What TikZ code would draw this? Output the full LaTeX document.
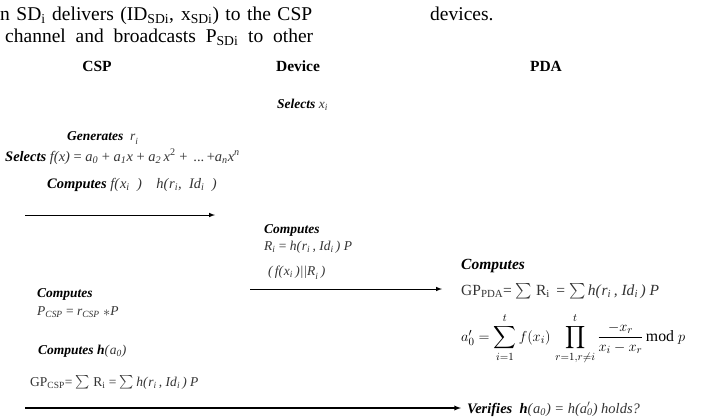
\documentclass[tikz,border=0pt]{standalone}
\usepackage{amsmath,amssymb}
\usepackage{fontspec}
\setmainfont{Liberation Serif}
\usetikzlibrary{arrows}

\tikzset{
	head/.style={anchor=base, inner sep=0pt, font=\fontsize{15.5}{18}\selectfont\bfseries},
	txt/.style={anchor=base west, inner sep=0pt, text=black!80, font=\fontsize{13.5}{16}\selectfont},
	big/.style={txt, font=\fontsize{15.5}{18}\selectfont},
	msg/.style={-latex, line width=1pt},
}
\newcommand{\act}[1]{\textcolor{black}{\textbf{\textit{#1}}}}
\newcommand{\vi}[2]{\textit{#1}\textsubscript{\textit{#2}}}

\begin{document}
\begin{tikzpicture}[x=1pt,y=-1pt]
	\useasboundingbox (0,0) rectangle (701,416);
	
	% text of the page above
	\node[anchor=base west, inner sep=0pt, font=\fontsize{19.5}{22}\selectfont] (top1) at (0,20)
		{\makebox[312pt][s]{n SD\textsubscript{i} delivers (ID\textsubscript{SDi}, x\textsubscript{SDi}) to the CSP}};
	\node[anchor=base west, inner sep=0pt, font=\fontsize{19.5}{22}\selectfont] (top2) at (5,42)
		{\makebox[308pt][s]{channel and broadcasts P\textsubscript{SDi} to other}};
	\node[anchor=base west, inner sep=0pt, font=\fontsize{19.5}{22}\selectfont] (top3) at (430,20) {devices.};
	
	\node[head] (csp) at (97,71) {CSP};
	\node[head] (dev) at (298,71) {Device};
	\node[head] (pda) at (546,71) {PDA};
	
	\node[txt] (selx) at (277,108) {\act{Selects} \vi{x}{i}};
	\node[txt] (gen) at (67,140) {\act{Generates} \ \textit{r}\textsubscript{\raisebox{-2pt}{\textit{i}}}};
	\node[txt, font=\fontsize{14.5}{17}\selectfont] (self) at (5,161) {\act{Selects} \textit{f(x)} = \vi{a}{0} + \vi{a}{1}\textit{x} + \vi{a}{2}\,\textit{x}\textsuperscript{2} + \,...\,+\vi{a}{n}\textit{x}\textsuperscript{\textit{n}}};
	\node[txt, font=\fontsize{14.5}{17}\selectfont] (compf) at (47,188) {\act{Computes} \textit{f(}\vi{x}{i}\textit{\ \ )\quad h(}\vi{r}{i}\textit{,\ \ }\vi{Id}{i}\textit{\ \ )}};
	
	\coordinate (a1s) at (25,215);
	\coordinate (a1e) at (215,215);
	\draw[msg] (a1s) -- (a1e);
	
	\node[txt] (devc) at (264,233) {\act{Computes}};
	\node[txt] (devr) at (264,250) {\vi{R}{i} = \textit{h(}\vi{r}{i}\textit{\,, }\vi{Id}{i}\textit{\,) P}};
	\node[txt] (devf) at (268,275) {\textit{(\,f(}\vi{x}{i}\textit{\,)||}\textit{R}\textsubscript{\raisebox{-2pt}{\textit{i}}}\textit{\,)}};
	
	\coordinate (a2s) at (250,289);
	\coordinate (a2e) at (442,289);
	\draw[msg] (a2s) -- (a2e);
	
	\node[big] (pdac) at (461,269) {\act{Computes}};
	\node[big] (gppda) at (461,295)
		{GP\textsubscript{PDA}= $\sum$ R\textsubscript{i} \,= $\sum$\,\textit{h(}\vi{r}{i}\textit{\,, }\vi{Id}{i}\textit{\,) P}};
	\node[anchor=west, inner sep=0pt, font=\fontsize{15.8}{18}\selectfont] (lagr) at (461,339)
		{$a'_0 = \displaystyle\sum_{i=1}^{t} f(x_i)\,\prod_{r=1,r\neq i}^{t} \frac{-x_r}{x_i - x_r}\,\mathrm{mod}\ p$};
	
	\node[txt] (cspc) at (37,297) {\act{Computes}};
	\node[txt] (pcsp) at (37,315) {\vi{P}{CSP} = \vi{r}{CSP} \raisebox{-1.5pt}{$\ast$}\textit{P}};
	\node[txt] (comph) at (38,354) {\act{Computes} \textcolor{black}{\textbf{\textit{h}}}\textit{(}\vi{a}{0}\textit{)}};
	\node[txt] (gpcsp) at (30,386)
		{GP\textsubscript{CSP}= $\sum$ R\textsubscript{i} = $\sum$\,\textit{h(}\vi{r}{i}\textit{\,, }\vi{Id}{i}\textit{\,) P}};
	
	\coordinate (a3s) at (25,408);
	\node[txt, font=\fontsize{14.5}{17}\selectfont] (ver) at (467,413) {\act{Verifies} \ \textcolor{black}{\textbf{\textit{h}}}\textit{(}\vi{a}{0}\textit{) = h(a}\rlap{\textsuperscript{$\prime$}}\textsubscript{\textit{0}}\textit{) holds?}};
	\draw[msg, line width=1.3pt] (a3s) -- ([xshift=-6pt]ver.west |- a3s);
	
\end{tikzpicture}
\end{document}
